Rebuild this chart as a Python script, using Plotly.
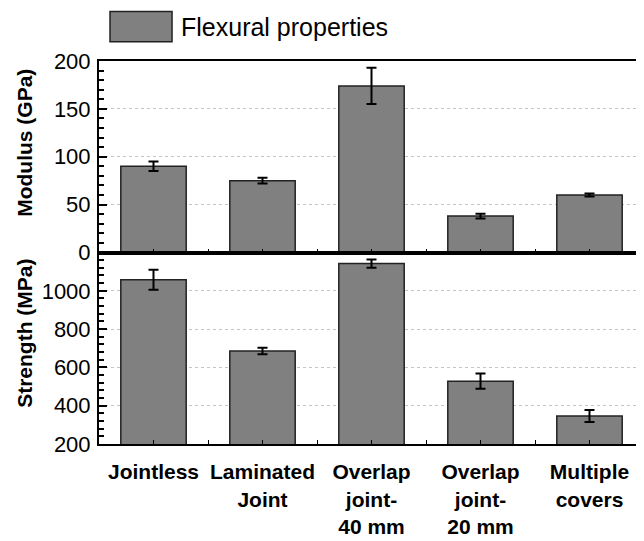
import plotly.graph_objects as go

# ---- data ----
categories = ["Jointless", "Laminated<br>Joint", "Overlap<br>joint-<br>40 mm",
              "Overlap<br>joint-<br>20 mm", "Multiple<br>covers"]
modulus = [90, 75, 174, 38, 60]
modulus_err = [5, 3, 19, 2.5, 1.5]
strength = [1058, 686, 1142, 528, 346]
strength_err = [52, 17, 22, 40, 31]
modulus_ticks = [0, 50, 100, 150, 200]
strength_ticks = [200, 400, 600, 800, 1000]
legend_label = "Flexural properties"
modulus_title = "Modulus (GPa)"
strength_title = "Strength (MPa)"

xpos = list(range(len(categories)))

FONT = "Liberation Sans, Arial, sans-serif"
BAR_FILL = "#808080"
BAR_LINE = "#222222"

fig = go.Figure()

common_bar = dict(
    width=0.6,
    marker=dict(color=BAR_FILL, line=dict(color=BAR_LINE, width=1.5)),
    showlegend=False,
)

fig.add_trace(go.Bar(
    x=xpos, y=modulus, xaxis="x", yaxis="y", name=legend_label,
    error_y=dict(type="data", array=modulus_err, color="black", thickness=2, width=5),
    **common_bar))
fig.add_trace(go.Bar(
    x=xpos, y=strength, xaxis="x2", yaxis="y2", name=legend_label,
    error_y=dict(type="data", array=strength_err, color="black", thickness=2, width=5),
    **common_bar))

xcommon = dict(range=[-0.5, 4.5], showline=True, linecolor="black", linewidth=2,
               mirror=True, ticks="inside", ticklen=4, tickwidth=1, tickcolor="black",
               tickvals=xpos, showgrid=False, zeroline=False,
               minor=dict(ticks="inside", ticklen=4, tickwidth=1, tickcolor="black",
                          tickmode="linear", tick0=0.5, dtick=1, showgrid=False))
ycommon = dict(showline=True, linecolor="black", linewidth=2, ticks="inside",
               ticklen=8, tickwidth=1.5, tickcolor="black", showgrid=True,
               gridcolor="#c4c4c4", griddash="dot", gridwidth=1, zeroline=False,
               ticklabelstandoff=2,
               tickfont=dict(family=FONT, size=22, color="black"))

# the page adds an 8px body margin, so the figure is sized to fit the window
fig.update_layout(
    width=636, height=533,
    margin=dict(l=91, r=0, t=53, b=97),
    plot_bgcolor="white", paper_bgcolor="white",
    xaxis=dict(domain=[0, 1], anchor="y", showticklabels=False, **xcommon),
    yaxis=dict(domain=[0.5, 1], anchor="x", range=[0, 200], tickvals=modulus_ticks,
               minor=dict(ticks="inside", ticklen=5, tickwidth=1.5, tickcolor="black",
                          tickmode="linear", tick0=0, dtick=10, showgrid=False),
               **ycommon),
    xaxis2=dict(domain=[0, 1], anchor="y2", ticktext=categories,
                ticklabelstandoff=8,
                tickfont=dict(family=FONT, size=21, color="black", weight="bold"),
                **xcommon),
    yaxis2=dict(domain=[0, 0.5], anchor="x2", range=[200, 1200], tickvals=strength_ticks,
                minor=dict(ticks="inside", ticklen=5, tickwidth=1.5, tickcolor="black",
                           tickmode="linear", tick0=200, dtick=40, showgrid=False),
                **ycommon),
    font=dict(family=FONT, color="black"),
)

# axis titles
fig.add_annotation(text="<b>" + modulus_title + "</b>", xref="paper", yref="paper",
                   x=-0.136, y=0.786, textangle=-90, showarrow=False,
                   xanchor="center", yanchor="middle",
                   font=dict(family=FONT, size=21, color="black"))
fig.add_annotation(text="<b>" + strength_title + "</b>", xref="paper", yref="paper",
                   x=-0.136, y=0.29, textangle=-90, showarrow=False,
                   xanchor="center", yanchor="middle",
                   font=dict(family=FONT, size=21, color="black"))

# legend (swatch + label)
fig.add_shape(type="rect", xref="paper", yref="paper",
              x0=0.0202, x1=0.134, y0=1.050, y1=1.129,
              fillcolor=BAR_FILL, line=dict(color=BAR_LINE, width=1.5))
fig.add_annotation(text=legend_label, xref="paper", yref="paper",
                   x=0.1468, y=1.0898, showarrow=False, xanchor="left", yanchor="middle",
                   font=dict(family=FONT, size=25, color="black"))

fig.write_html("out.html")
